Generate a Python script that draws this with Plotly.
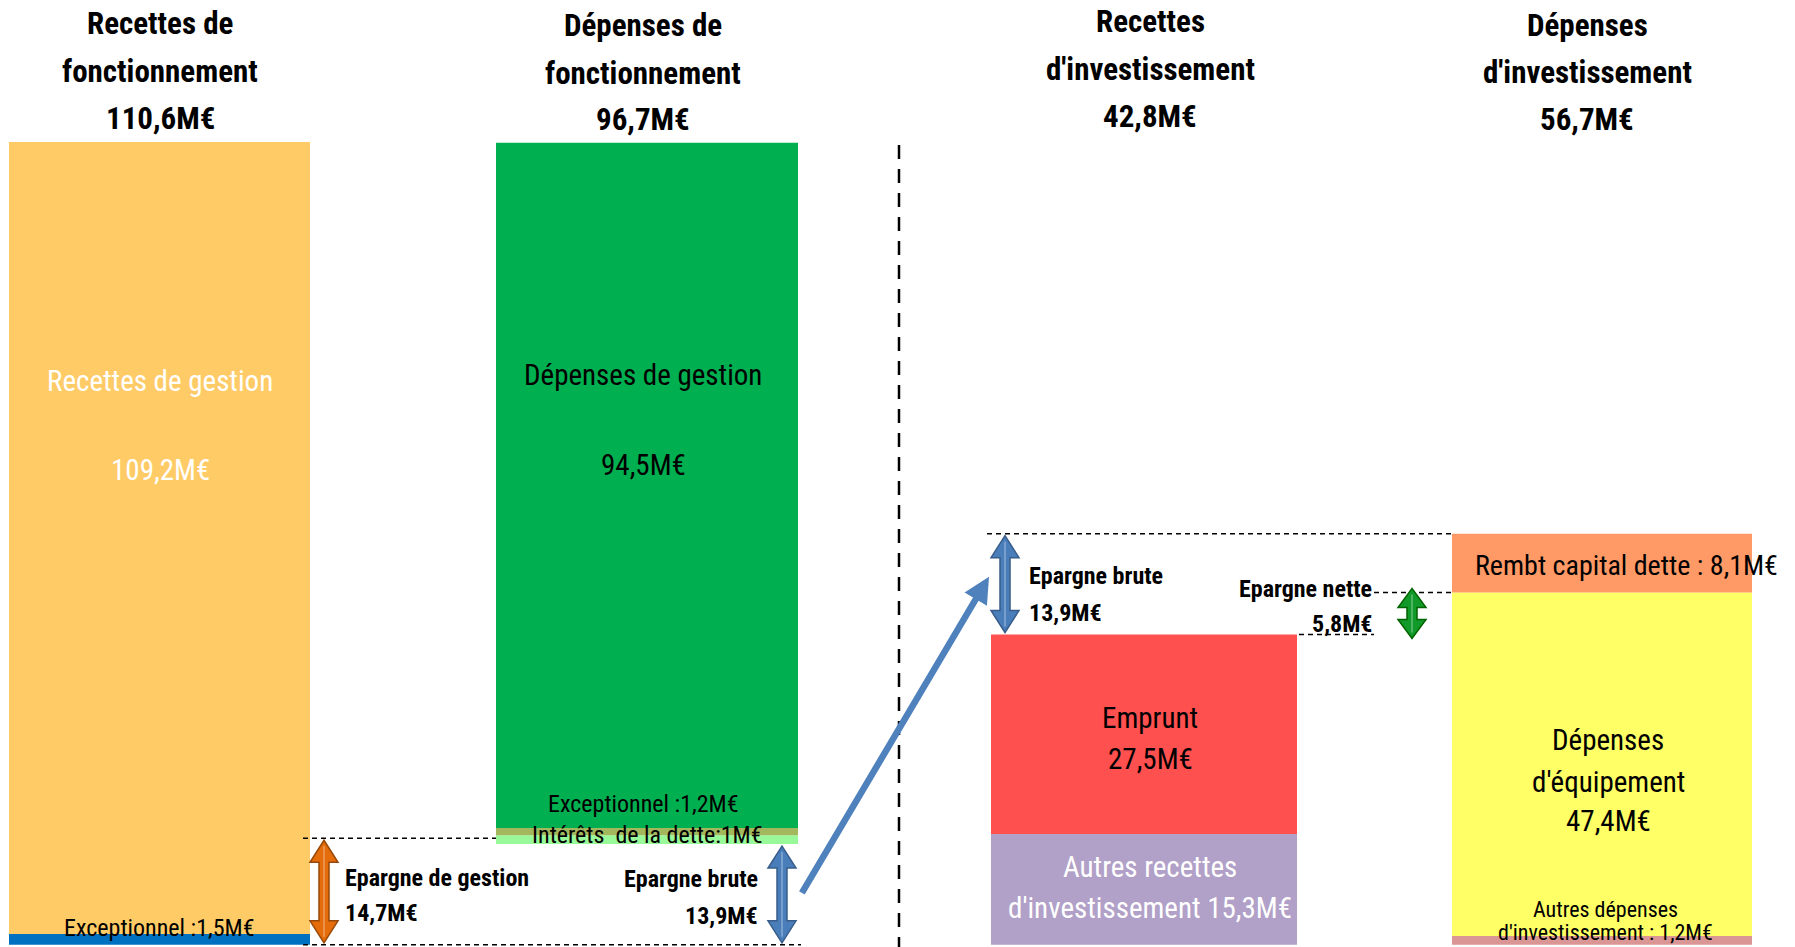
import plotly.graph_objects as go

# ---------------- data (M€) ----------------
column_titles = [
    ["Recettes de", "fonctionnement", "110,6M€"],
    ["Dépenses de", "fonctionnement", "96,7M€"],
    ["Recettes", "d'investissement", "42,8M€"],
    ["Dépenses", "d'investissement", "56,7M€"],
]

rf_labels = ["Exceptionnel", "Recettes de gestion"]
rf_values = [1.5, 109.2]

df_labels = ["Exceptionnel", "Intérêts de la dette", "Dépenses de gestion"]
df_values = [1.2, 1.0, 94.5]

ri_labels = ["Autres recettes d'investissement", "Emprunt"]
ri_values = [15.3, 27.5]

di_labels = ["Autres dépenses d'investissement", "Dépenses d'équipement", "Rembt capital dette"]
di_values = [1.2, 47.4, 8.1]

epargne_labels = ["Epargne de gestion", "Epargne brute", "Epargne nette"]
epargne_values = [14.7, 13.9, 5.8]

# ---------------- layout constants ----------------
W, H = 1795, 947
Y_MIN, Y_MAX = -0.3, 130.3
K = H / (Y_MAX - Y_MIN)  # pixels per M€


def v2p(v):
    return (Y_MAX - v) * K


def p2v(p):
    return Y_MAX - p / K


FONT = "Liberation Sans Narrow, Arial Narrow, Roboto Condensed, Roboto, Liberation Sans, sans-serif"
col_x = [159.5, 647, 1144, 1602]
col_w = [301, 302, 306, 300]

rf_colors = ["#0070C0", "#FFCB66"]
df_colors = ["#99F899", "#A3B85C", "#00B050"]
ri_colors = ["#B1A0C7", "#FF5050"]
di_colors = ["#DA9694", "#FFFF66", "#FF9966"]

fig = go.Figure()


def add_stack(ci, labels, values, colors, base0):
    b = base0
    tops = []
    for lab, val, col in zip(labels, values, colors):
        fig.add_trace(go.Bar(
            x=[col_x[ci]], y=[val], base=[b], width=[col_w[ci]],
            marker=dict(color=col, line=dict(width=0)),
            name=lab, showlegend=False, hovertemplate=lab + ": %{y} M€<extra></extra>"))
        b += val
        tops.append(b)
    return tops


eg, eb, en = epargne_values
rf_tops = add_stack(0, rf_labels, rf_values, rf_colors, 0)
df_tops = add_stack(1, df_labels, df_values, df_colors, eb)
ri_tops = add_stack(2, ri_labels, ri_values, ri_colors, 0)
di_tops = add_stack(3, di_labels, di_values, di_colors, 0)

shapes = []
annotations = []


def dline(x0, x1, v, width=1.5, dash="5px,4px"):
    shapes.append(dict(type="line", xref="x", yref="y", x0=x0, x1=x1, y0=v, y1=v,
                       line=dict(color="black", width=width, dash=dash)))


def block_arrow(xc, v0, v1, fill, edge, inset=2):
    p0 = v2p(v0) - inset  # bottom pixel
    p1 = v2p(v1) + inset  # top pixel
    hl = min(22, (p0 - p1) * 0.38)
    sw, hw = 5, 14
    pts = [
        (xc, p1), (xc + hw, p1 + hl), (xc + sw, p1 + hl), (xc + sw, p0 - hl),
        (xc + hw, p0 - hl), (xc, p0), (xc - hw, p0 - hl), (xc - sw, p0 - hl),
        (xc - sw, p1 + hl), (xc - hw, p1 + hl),
    ]
    path = "M " + " L ".join(f"{x:.2f},{p2v(p):.4f}" for x, p in pts) + " Z"
    shapes.append(dict(type="path", xref="x", yref="y", path=path,
                       fillcolor=fill, line=dict(color=edge, width=1.5)))
    # light centre highlight
    shapes.append(dict(type="line", xref="x", yref="y", x0=xc, x1=xc,
                       y0=p2v(p0 - 6), y1=p2v(p1 + 6),
                       line=dict(color="rgba(255,255,255,0.35)", width=1.5)))


def text(x, p, s, size=29, color="black", bold=False, anchor="center"):
    annotations.append(dict(
        x=x, y=p2v(p), xref="x", yref="y", text=("<b>%s</b>" % s) if bold else s,
        showarrow=False, xanchor=anchor, yanchor="middle",
        font=dict(family=FONT, size=size, color=color)))


# ---- titles ----
title_x = [160, 643, 1150, 1587]
title_p = [[23, 71, 118], [25, 73, 119], [21, 69, 116], [25, 72, 119]]
for lines, x, ps in zip(column_titles, title_x, title_p):
    for s, p in zip(lines, ps):
        text(x, p, s, size=31, bold=True)

# ---- divider ----
shapes.append(dict(type="line", xref="x", yref="y", x0=899, x1=899, y0=p2v(145), y1=Y_MIN,
                   line=dict(color="black", width=2.5, dash="14px,10px")))

# ---- fonctionnement ----
r1 = col_x[0] + col_w[0] / 2
l2 = col_x[1] - col_w[1] / 2
r2 = col_x[1] + col_w[1] / 2
dline(r1 - 7, l2, eg)
dline(r1 - 7, r2 + 3, 0)
block_arrow(324, 0, eg, "#E46C0A", "#984807")
block_arrow(782, 0, eb, "#4A7EBB", "#385D8A")

text(col_x[0], 381, "Recettes de gestion", color="white")
text(col_x[0] + 1, 470, "109,2M€", color="white")
text(col_x[0], v2p(rf_tops[0]) - 6, "Exceptionnel :1,5M€", size=24)

text(643, 375, "Dépenses de gestion")
text(643, 465, "94,5M€")
text(647, v2p(df_tops[1]) + 7, "Intérêts  de la dette:1M€", size=24)
text(643, v2p(df_tops[1]) - 24, "Exceptionnel :1,2M€", size=24)

pm = v2p(eg / 2)
text(343, pm - 14, "Epargne de gestion", size=24, bold=True, anchor="left")
text(343, pm + 21, "14,7M€", size=24, bold=True, anchor="left")
pm = v2p(eb / 2)
text(760, pm - 15, "Epargne brute", size=24, bold=True, anchor="right")
text(760, pm + 22, "13,9M€", size=24, bold=True, anchor="right")

# ---- investissement ----
ri_total = ri_tops[-1]
l3 = col_x[2] - col_w[2] / 2
r3 = col_x[2] + col_w[2] / 2
l4 = col_x[3] - col_w[3] / 2
dline(l3 - 4, l4, ri_total + eb)
dline(1374, l4, ri_total + en)
dline(r3 + 2, 1374, ri_total)
block_arrow(1005, ri_total, ri_total + eb, "#4A7EBB", "#385D8A")
block_arrow(1412, ri_total, ri_total + en, "#119A2A", "#006400", inset=-4)

# flow arrow Epargne brute -> recettes d'investissement
annotations.append(dict(
    x=l3 - 2, y=ri_total + eb / 2 + 1, xref="x", yref="y",
    ax=801, ay=eb / 2, axref="x", ayref="y",
    text="", showarrow=True, arrowhead=2, arrowsize=0.8, arrowwidth=6.5,
    arrowcolor="#4F81BD", standoff=0, startstandoff=0))

pm = v2p(ri_total + eb / 2)
text(1027, pm - 8, "Epargne brute", size=24, bold=True, anchor="left")
text(1027, pm + 29, "13,9M€", size=24, bold=True, anchor="left")
p_n = v2p(ri_total + en)
text(1374, p_n - 3, "Epargne nette", size=24, bold=True, anchor="right")
text(1374, p_n + 32, "5,8M€", size=24, bold=True, anchor="right")

text(1150, 718, "Emprunt")
text(1150, 759, "27,5M€")
text(1150, 867, "Autres recettes", color="white")
text(1150, 908, "d'investissement 15,3M€", color="white")

text(1626, v2p((di_tops[1] + di_tops[2]) / 2) + 2, "Rembt capital dette : 8,1M€", size=28)
text(1608, 740, "Dépenses")
text(1608, 782, "d'équipement")
text(1608, 821, "47,4M€")
text(1605, 909, "Autres dépenses", size=22)
text(1605, 932, "d'investissement : 1,2M€", size=22)

fig.update_layout(
    width=W, height=H, margin=dict(l=0, r=0, t=0, b=0),
    paper_bgcolor="white", plot_bgcolor="white",
    barmode="overlay", showlegend=False,
    xaxis=dict(range=[0, W], visible=False, fixedrange=True),
    yaxis=dict(range=[Y_MIN, Y_MAX], visible=False, fixedrange=True),
    shapes=shapes, annotations=annotations,
)

fig.write_html("out.html", config={"displayModeBar": False})
